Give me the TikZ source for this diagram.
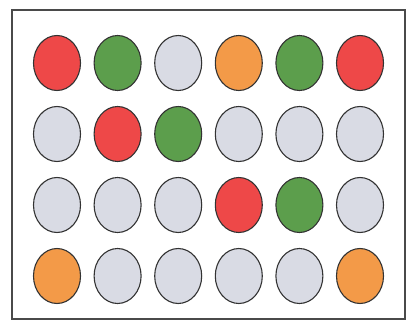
\documentclass[tikz,border=0pt]{standalone}
\usepackage{tikz}
\usepackage{xcolor}
\usetikzlibrary{shapes.geometric}
\definecolor{dotred}{HTML}{EE4848}
\definecolor{dotgreen}{HTML}{5C9E4C}
\definecolor{dotgrey}{HTML}{D9DBE4}
\definecolor{dotorange}{HTML}{F39A48}
\definecolor{framegrey}{HTML}{4A4A4A}

\begin{document}
\begin{tikzpicture}[
        x=1pt, y=-1pt,
        dot/.style={
          ellipse,
          draw=black!80,
          line width=1.1pt,
          minimum width=47pt,
          minimum height=55pt,
          inner sep=0pt
        },
        board/.style={
          draw=framegrey,
          line width=1.3pt
        }
      ]

      \useasboundingbox (0,0) rectangle (412,332);

      \node[board, minimum width=393pt, minimum height=309pt, inner sep=0pt] (frame) at (208.5,164.5) {};

      % rows of dots, top to bottom
      \foreach \c [count=\i] in {dotred,dotgreen,dotgrey,dotorange,dotgreen,dotred}
        \node[dot, fill=\c] (a\i) at ({57+60.6*(\i-1)},63) {};
      \foreach \c [count=\i] in {dotgrey,dotred,dotgreen,dotgrey,dotgrey,dotgrey}
        \node[dot, fill=\c] (b\i) at ({57+60.6*(\i-1)},134) {};
      \foreach \c [count=\i] in {dotgrey,dotgrey,dotgrey,dotred,dotgreen,dotgrey}
        \node[dot, fill=\c] (c\i) at ({57+60.6*(\i-1)},205) {};
      \foreach \c [count=\i] in {dotorange,dotgrey,dotgrey,dotgrey,dotgrey,dotorange}
        \node[dot, fill=\c] (d\i) at ({57+60.6*(\i-1)},276) {};

      \end{tikzpicture}
\end{document}
